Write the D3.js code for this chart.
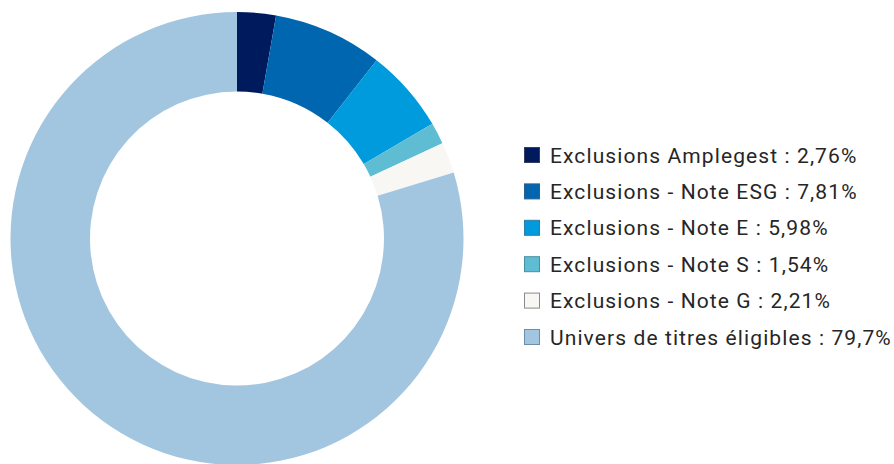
<!DOCTYPE html>
<html>
<head>
<meta charset="utf-8">
<script src="https://cdn.jsdelivr.net/npm/d3@7"></script>
<style>
  body { margin: 0; background: #fff; }
  text { font-family: Roboto, "Noto Sans", sans-serif; }
</style>
</head>
<body>
<div id="chart"></div>
<script>
// chart values
var categories = [
    "Exclusions Amplegest",
    "Exclusions - Note ESG",
    "Exclusions - Note E",
    "Exclusions - Note S",
    "Exclusions - Note G",
    "Univers de titres éligibles"
];
var values = [2.76, 7.81, 5.98, 1.54, 2.21, 79.7];
var valueLabels = ["2,76%", "7,81%", "5,98%", "1,54%", "2,21%", "79,7%"];
var colors = ["#001a5e", "#0066b0", "#009bdd", "#5fbdd3", "#f8f7f4", "#a3c6e0"];
var strokes = ["#3a3a5a", "#2f5f8f", "#2f7fa8", "#4a8f9f", "#8a8a8a", "#6f8fa8"];

var width = 894;
var height = 464;
var cx = 237, cy = 238.5;
var outerR = 226.5, innerR = 147;

var svg = d3.select("#chart").append("svg")
    .attr("width", width)
    .attr("height", height);

var pie = d3.pie().sort(null).value(function(d) { return d; });
var arc = d3.arc().innerRadius(innerR).outerRadius(outerR);

var donut = svg.append("g")
    .attr("transform", "translate(" + cx + "," + cy + ")");

donut.selectAll("path")
    .data(pie(values))
    .enter()
    .append("path")
    .attr("d", arc)
    .attr("fill", function(d, i) { return colors[i]; });

// legend
var legendY = d3.scalePoint()
    .domain(categories)
    .range([155, 337]);

var legend = svg.append("g");
var item = legend.selectAll("g")
    .data(categories)
    .enter()
    .append("g")
    .attr("transform", function(d) { return "translate(524," + legendY(d) + ")"; });

item.append("rect")
    .attr("x", 0.5)
    .attr("y", -7.5)
    .attr("width", 15)
    .attr("height", 15)
    .attr("fill", function(d, i) { return colors[i]; })
    .attr("stroke", function(d, i) { return strokes[i]; })
    .attr("stroke-width", 1);

item.append("text")
    .attr("x", 26)
    .attr("y", 0)
    .attr("dy", "0.36em")
    .attr("font-size", 21)
    .attr("letter-spacing", "1.1px")
    .attr("fill", "#262626")
    .text(function(d, i) { return d + " : " + valueLabels[i]; });
</script>
</body>
</html>
